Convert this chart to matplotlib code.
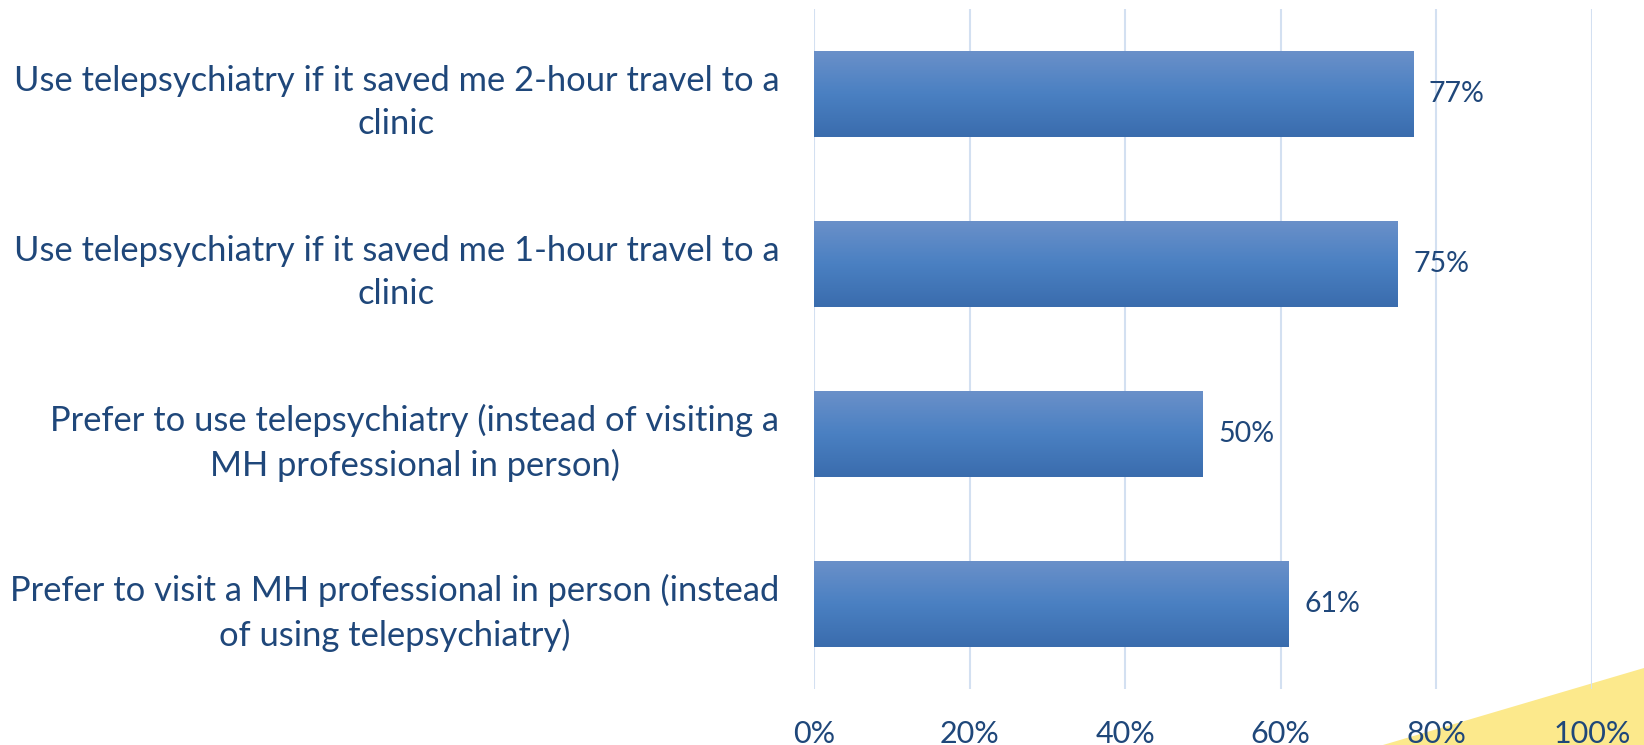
import matplotlib
matplotlib.use("Agg")
import matplotlib.pyplot as plt
import numpy as np
from matplotlib.patches import Polygon
from matplotlib.colors import LinearSegmentedColormap

categories = [
    "Use telepsychiatry if it saved me 2-hour travel to a\nclinic",
    "Use telepsychiatry if it saved me 1-hour travel to a\nclinic",
    "Prefer to use telepsychiatry (instead of visiting a\nMH professional in person)",
    "Prefer to visit a MH professional in person (instead\nof using telepsychiatry)",
]
values = [77, 75, 50, 61]
xticks = [0, 20, 40, 60, 80, 100]
xtick_labels = ["0%", "20%", "40%", "60%", "80%", "100%"]

TEXT = "#1f477a"
plt.rcParams['font.family'] = ['Lato', 'DejaVu Sans']

fig = plt.figure(figsize=(16.44, 7.45), dpi=100)
fig.patch.set_facecolor("white")

# yellow decorative corner
tri = Polygon([[1383/1644, 0], [1644/1644, 0], [1644/1644, 1 - 668/745]],
              closed=True, transform=fig.transFigure, facecolor="#fce98c",
              edgecolor="none", zorder=0)
fig.patches.append(tri)

ax = fig.add_axes([814/1644, 1 - 689/745, (1592 - 814)/1644, (689 - 9)/745])
ax.set_facecolor("none")
ax.set_zorder(2)

n = len(categories)
ypos = np.arange(n)

for x in xticks:
    ax.axvline(x, color="#d3e0f1", lw=1.5, zorder=1)

cmap = LinearSegmentedColormap.from_list("g", ["#6a90c9", "#4a80c2", "#3a6cad"])
grad = np.linspace(0, 1, 256).reshape(-1, 1)
h = 0.505
for y, v in zip(ypos, values):
    ax.imshow(grad, cmap=cmap, aspect="auto", extent=(0, v, y + h/2, y - h/2),
              zorder=2, interpolation="bilinear")
    ax.text(v + 2.0, y, f"{v}%", va="center", ha="left", fontsize=20.5, color=TEXT)
ax.set_xlim(0, 100)
ax.set_ylim(n - 0.5, -0.5)

ax.set_yticks(ypos)
ax.set_yticklabels(categories, fontsize=24.8, color=TEXT, multialignment="center",
                   linespacing=1.42)
ax.set_xticks(xticks)
ax.set_xticklabels(xtick_labels, fontsize=22, color=TEXT)
ax.tick_params(axis="both", length=0)
ax.tick_params(axis="x", pad=22)
ax.tick_params(axis="y", pad=25)
for s in ax.spines.values():
    s.set_visible(False)

fig.savefig("out.png", dpi=100, facecolor="white")
